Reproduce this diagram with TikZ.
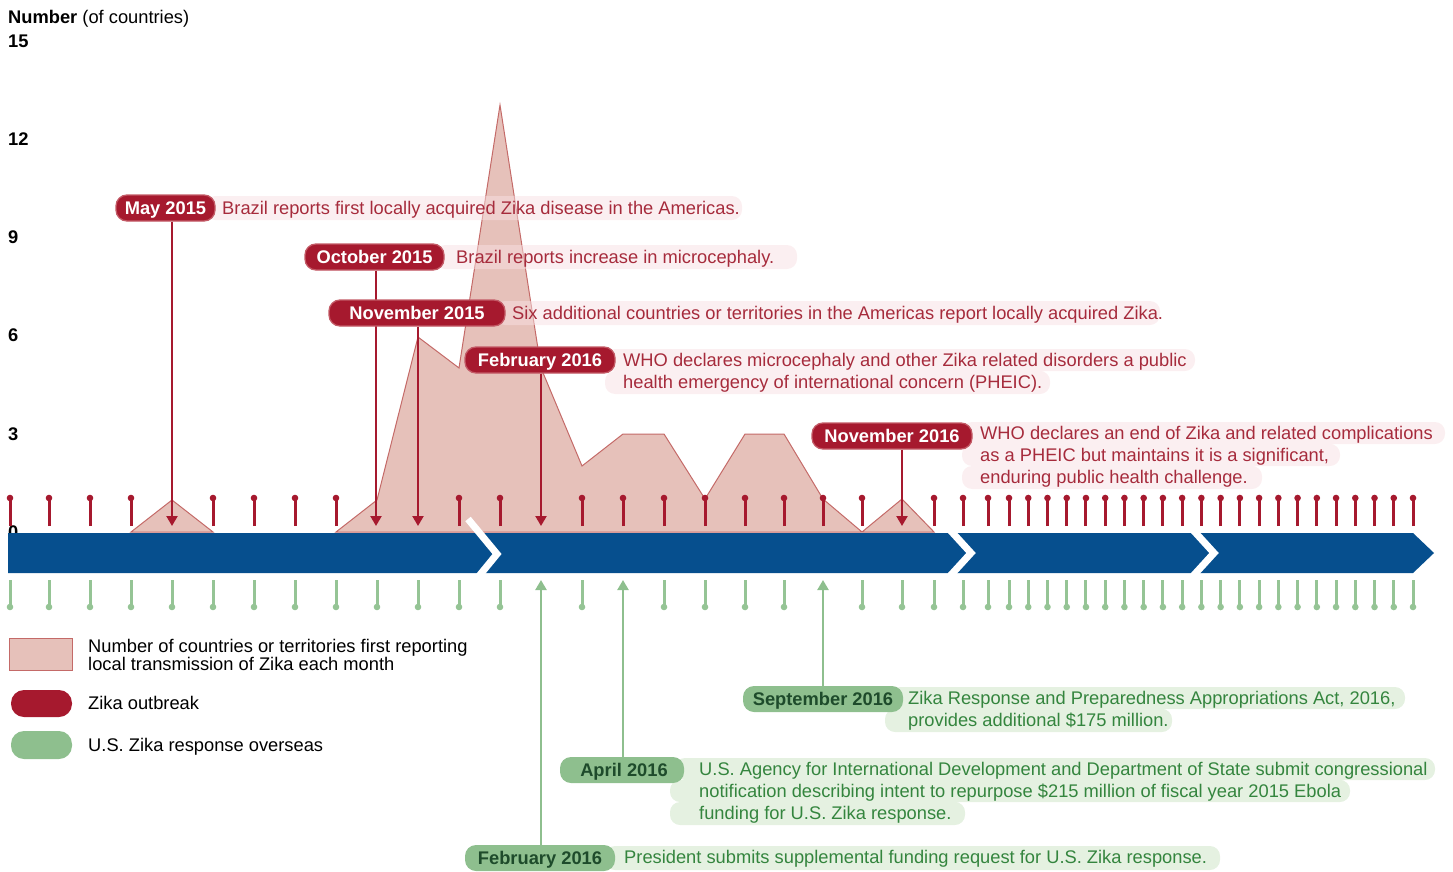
\documentclass[tikz,border=0pt]{standalone}
\usepackage{fontspec}
\setmainfont{Liberation Sans}
\usetikzlibrary{arrows.meta}
\definecolor{zred}{HTML}{A6192E}
\definecolor{zredline}{HTML}{C35A66}
\definecolor{zredtxt}{HTML}{A62B3C}
\definecolor{zpinkbg}{HTML}{F8E0E3}
\definecolor{zarea}{HTML}{E6C1BA}
\definecolor{zareal}{HTML}{C46A68}
\definecolor{zblue}{HTML}{064F8E}
\definecolor{zgreen}{HTML}{8EBF8E}
\definecolor{zgreentick}{HTML}{95C495}
\definecolor{zgreendk}{HTML}{1E4B2B}
\definecolor{zgreentxt}{HTML}{34853E}
\definecolor{zgreenbg}{HTML}{E5F1E1}
\begin{document}
\begin{tikzpicture}[x=1pt,y=-1pt,
  font=\fontsize{18.3}{22}\selectfont,
  redpill/.style={fill=zred, draw=zredline, line width=1.3pt, rounded corners=11pt, text=white,
    font=\fontsize{18.3}{22}\selectfont\bfseries, minimum height=26pt, inner sep=0pt,
    text height=13.1pt, text depth=0pt},
  greenpill/.style={fill=zgreen, rounded corners=11pt, text=zgreendk,
    font=\fontsize{18.3}{22}\selectfont\bfseries, minimum height=26pt, inner sep=0pt,
    text height=13.1pt, text depth=0pt},
  redtxt/.style={anchor=base west, text=zredtxt, inner sep=0pt},
  greentxt/.style={anchor=base west, text=zgreentxt, inner sep=0pt},
  plaintxt/.style={anchor=base west, text=black, inner sep=0pt},
  redbg/.style={fill=zpinkbg, fill opacity=0.5, rounded corners=10pt},
  greenbg/.style={fill=zgreenbg, rounded corners=10pt},
  redlink/.style={draw=zred, line width=2.2pt, -{Triangle[width=11pt,length=10pt]}},
  greenlink/.style={draw=zgreen, line width=2.2pt, -{Triangle[width=11pt,length=10pt]}},
  redtick/.style={draw=zred, line width=3pt},
  greentick/.style={draw=zgreentick, line width=3pt},
  chev/.style={draw=white, line width=7pt, miter limit=10}
]
\useasboundingbox (0,0) rectangle (1453,872);

% ---------- axis labels ----------
\node[plaintxt] (axtitle) at (8,23.5) {\textbf{Number} (of countries)};
\node[plaintxt, font=\fontsize{18.3}{22}\selectfont\bfseries] (y15) at (8,47.5) {15};
\node[plaintxt, font=\fontsize{18.3}{22}\selectfont\bfseries] (y12) at (8,145.5) {12};
\node[plaintxt, font=\fontsize{18.3}{22}\selectfont\bfseries] (y9) at (8,243.5) {9};
\node[plaintxt, font=\fontsize{18.3}{22}\selectfont\bfseries] (y6) at (8,341.5) {6};
\node[plaintxt, font=\fontsize{18.3}{22}\selectfont\bfseries] (y3) at (8,440) {3};
\node[plaintxt, font=\fontsize{18.3}{22}\selectfont\bfseries] (y0) at (8,538.5) {0};

% ---------- area chart ----------
\filldraw[fill=zarea, draw=zareal, line width=1pt] (131,532) -- (172,500) -- (213,532) -- cycle;
\filldraw[fill=zarea, draw=zareal, line width=1pt]
  (336,532) -- (377,500) -- (418,337) -- (459,368) -- (500,105) -- (541,368) -- (582,466)
  -- (623,434) -- (664,434) -- (705,499) -- (745,434) -- (784,434) -- (823,499) -- (862,532)
  -- (902,499) -- (934,532) -- cycle;

% ---------- ticks ----------
\foreach \x in {10,49,90,131,213,254,295,336,459,500,582,623,664,705,745,784,823,862,934,963,988}{
  \draw[redtick] (\x,526) -- (\x,499);
  \fill[zred] (\x,498) circle (3.3pt);
}
\foreach \k in {0,...,21}{
  \pgfmathsetmacro{\xx}{1009+19.238*\k}
  \draw[redtick] (\xx,526) -- (\xx,499);
  \fill[zred] (\xx,498) circle (3.3pt);
  \draw[greentick] (\xx,580) -- (\xx,606);
  \fill[zgreentick] (\xx,607) circle (3.3pt);
}
\foreach \x in {10,49,90,131,172,213,254,295,336,377,418,459,500,582,664,705,745,784,862,902,934,963,988}{
  \draw[greentick] (\x,580) -- (\x,606);
  \fill[zgreentick] (\x,607) circle (3.3pt);
}

% ---------- timeline bar ----------
\fill[zblue] (8,533) -- (1413,533) -- (1434,553) -- (1413,573) -- (8,573) -- cycle;
\draw[chev] (468,519) -- (497,554) -- (479,576);
\draw[chev] (950,530) -- (971,553) -- (950,576);
\draw[chev] (1193,530) -- (1214,553) -- (1193,576);

% ---------- text backgrounds ----------
\fill[redbg] (205,196) rectangle (742,220);
\fill[redbg] (435,245) rectangle (797,269);
\fill[redbg] (495,301) rectangle (1160,325);
\fill[redbg] (605,349) rectangle (1195,371) (605,371) rectangle (1050,394);
\fill[redbg] (962,422) rectangle (1445,444) (962,444) rectangle (1340,466) (962,466) rectangle (1262,489);
\fill[greenbg] (890,687) rectangle (1405,709) (885,709) rectangle (1172,732);
\fill[greenbg] (675,758) rectangle (1435,780) (670,780) rectangle (1350,802) (670,802) rectangle (965,825);
\fill[greenbg] (605,846) rectangle (1220,870);

% ---------- connector end points ----------
\coordinate (may15end) at (172,526);
\coordinate (oct15end) at (376,526);
\coordinate (nov15end) at (418,526);
\coordinate (feb16end) at (541,526);
\coordinate (nov16end) at (902,526);
\coordinate (feb16gend) at (541,580);
\coordinate (apr16end) at (623,580);
\coordinate (sep16end) at (823,580);

% ---------- red pills ----------
\node[redpill, minimum width=99pt] (may15) at (165.5,208) {May 2015};
\node[redpill, minimum width=139pt] (oct15) at (374.5,257) {October 2015};
\draw[redlink] (oct15.south -| oct15end) -- (oct15end);
\draw[redlink] (may15.south -| may15end) -- (may15end);
\node[redpill, minimum width=176pt] (nov15) at (417,313) {November 2015};
\draw[redlink] (nov15.south -| nov15end) -- (nov15end);
\node[redpill, minimum width=150pt] (feb16) at (540,360) {February 2016};
\draw[redlink] (feb16.south -| feb16end) -- (feb16end);
\node[redpill, minimum width=160pt] (nov16) at (892,436) {November 2016};
\draw[redlink] (nov16.south -| nov16end) -- (nov16end);

% ---------- red texts ----------
\node[redtxt] (t1) at (222,214.5) {Brazil reports first locally acquired Zika disease in the Americas.};
\node[redtxt] (t2) at (456,263.5) {Brazil reports increase in microcephaly.};
\node[redtxt] (t3) at (512,319.5) {Six additional countries or territories in the Americas report locally acquired Zika.};
\node[redtxt] (t4a) at (623,366.5) {WHO declares microcephaly and other Zika related disorders a public};
\node[redtxt] (t4b) at (623,388.5) {health emergency of international concern (PHEIC).};
\node[redtxt] (t5a) at (980,439.5) {WHO declares an end of Zika and related complications};
\node[redtxt] (t5b) at (980,461.5) {as a PHEIC but maintains it is a significant,};
\node[redtxt] (t5c) at (980,483.5) {enduring public health challenge.};

% ---------- green pills ----------
\node[greenpill, minimum width=160pt] (sep16) at (823,699) {September 2016};
\draw[greenlink] (sep16.north -| sep16end) -- (sep16end);
\node[greenpill, minimum width=124pt] (apr16) at (622,770) {\hspace*{4pt}April 2016};
\draw[greenlink] (apr16.north -| apr16end) -- (apr16end);
\node[greenpill, minimum width=150pt] (feb16g) at (540,858) {February 2016};
\draw[greenlink] (feb16g.north -| feb16gend) -- (feb16gend);

% ---------- green texts ----------
\node[greentxt] (g1a) at (908,704.5) {Zika Response and Preparedness Appropriations Act, 2016,};
\node[greentxt] (g1b) at (908,726.5) {provides additional \$175 million.};
\node[greentxt] (g2a) at (699,775.5) {U.S. Agency for International Development and Department of State submit congressional};
\node[greentxt] (g2b) at (699,797.5) {notification describing intent to repurpose \$215 million of fiscal year 2015 Ebola};
\node[greentxt] (g2c) at (699,819.5) {funding for U.S. Zika response.};
\node[greentxt] (g3) at (624,863.5) {President submits supplemental funding request for U.S. Zika response.};

% ---------- legend ----------
\filldraw[fill=zarea, draw=zareal, line width=1pt] (9,638) rectangle (72,670);
\fill[zred, rounded corners=13pt] (11,690) rectangle (72,717);
\fill[zgreen, rounded corners=13pt] (11,731) rectangle (72,759);
\node[plaintxt] (lg1a) at (88,652.5) {Number of countries or territories first reporting};
\node[plaintxt] (lg1b) at (88,670.5) {local transmission of Zika each month};
\node[plaintxt] (lg2) at (88,709.5) {Zika outbreak};
\node[plaintxt] (lg3) at (88,751.5) {U.S. Zika response overseas};
\end{tikzpicture}
\end{document}
